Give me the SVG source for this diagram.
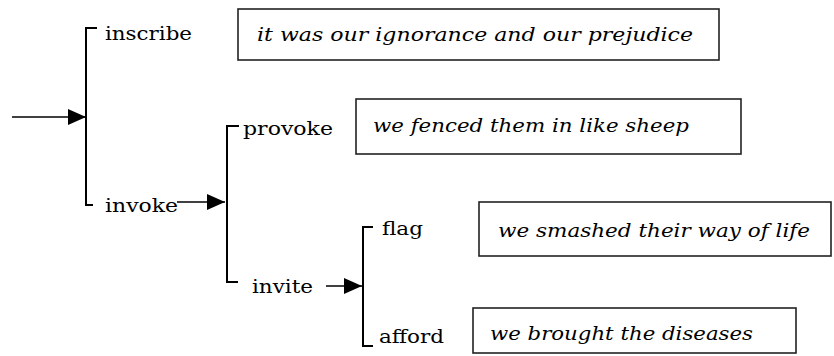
<svg xmlns="http://www.w3.org/2000/svg" width="834" height="356" viewBox="0 0 834 356">
<defs>
<style>
.lbl{font-family:'DejaVu Serif','Liberation Serif',serif;font-size:19px;fill:#000}
.quote{font-family:'DejaVu Serif','Liberation Serif',serif;font-size:19px;font-style:italic;fill:#000}
.box{fill:#fff;stroke:#222;stroke-width:1.6}
.br{fill:none;stroke:#000;stroke-width:2}
.ar{fill:none;stroke:#000;stroke-width:1.6}
</style>
<marker id="ah" markerUnits="userSpaceOnUse" markerWidth="20" markerHeight="18" viewBox="0 0 20 18" refX="19" refY="9" orient="auto">
<path d="M1,1 L19,9 L1,17 Z" fill="#000"/>
</marker>
</defs>
<rect width="834" height="356" fill="#fff"/>
<g id="connectors">
<path class="br" d="M97,28 H86 V205 H93"/>
<path class="br" d="M239,126 H227 V282 H238"/>
<path class="br" d="M373,227 H363 V346 H373"/>
<line class="ar" x1="12" y1="117" x2="86" y2="117" marker-end="url(#ah)"/>
<line class="ar" x1="177" y1="202" x2="225" y2="202" marker-end="url(#ah)"/>
<line class="ar" x1="326" y1="286" x2="362" y2="286" marker-end="url(#ah)"/>
</g>
<g id="inscribe"><text class="lbl" x="105" y="40" textLength="87" lengthAdjust="spacingAndGlyphs">inscribe</text></g>
<g id="invoke"><text class="lbl" x="105" y="212" textLength="73" lengthAdjust="spacingAndGlyphs">invoke</text></g>
<g id="provoke"><text class="lbl" x="243" y="135" textLength="90" lengthAdjust="spacingAndGlyphs">provoke</text></g>
<g id="invite"><text class="lbl" x="252" y="293" textLength="61" lengthAdjust="spacingAndGlyphs">invite</text></g>
<g id="flag"><text class="lbl" x="382" y="235" textLength="41" lengthAdjust="spacingAndGlyphs">flag</text></g>
<g id="afford"><text class="lbl" x="379" y="343" textLength="65" lengthAdjust="spacingAndGlyphs">afford</text></g>
<g id="q1"><rect class="box" x="238" y="9" width="481" height="51"/><text class="quote" x="257" y="41" textLength="436" lengthAdjust="spacingAndGlyphs">it was our ignorance and our prejudice</text></g>
<g id="q2"><rect class="box" x="356" y="99" width="385" height="55"/><text class="quote" x="373" y="132" textLength="316" lengthAdjust="spacingAndGlyphs">we fenced them in like sheep</text></g>
<g id="q3"><rect class="box" x="479" y="202" width="352" height="54"/><text class="quote" x="498" y="237" textLength="312" lengthAdjust="spacingAndGlyphs">we smashed their way of life</text></g>
<g id="q4"><rect class="box" x="473" y="308" width="323" height="45"/><text class="quote" x="490" y="340" textLength="263" lengthAdjust="spacingAndGlyphs">we brought the diseases</text></g>
</svg>
